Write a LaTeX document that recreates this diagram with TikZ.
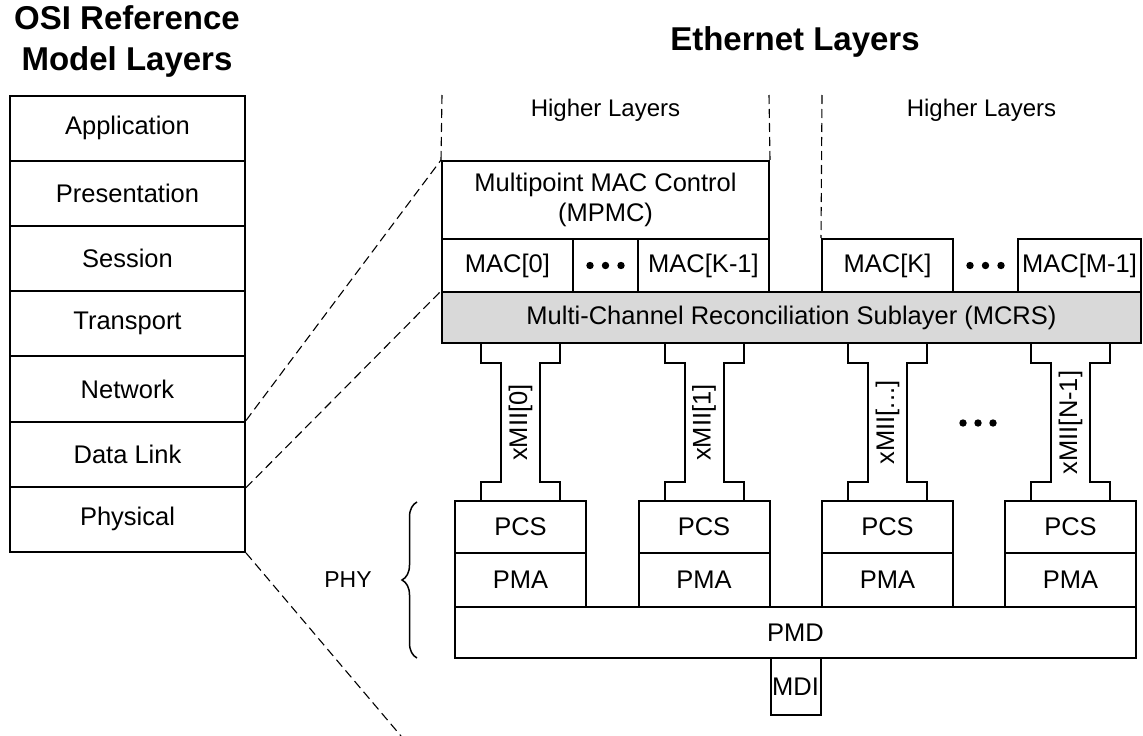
\documentclass[tikz,border=0pt]{standalone}
\usepackage{fontspec}
\setmainfont{Liberation Sans}
\usetikzlibrary{decorations.pathreplacing}

\definecolor{mcrsgray}{RGB}{217,217,217}

\begin{document}
\begin{tikzpicture}[x=1pt,y=-1pt,
  box/.style={draw, line width=2pt, inner sep=0pt, align=center,
    font=\fontsize{25.5}{30}\selectfont},
  lbl/.style={inner sep=0pt, align=center, font=\fontsize{25.5}{30}\selectfont},
  title/.style={inner sep=0pt, align=center, font=\fontsize{33}{41}\selectfont\bfseries},
  guide/.style={line width=1.1pt, dash pattern=on 9pt off 5pt},
  beam/.style={line width=2pt},
  dot/.style={fill=black}]
\useasboundingbox (0,0) rectangle (1143,736);

% titles
\node[title] (osititle) at (127,41.5) {OSI Reference\\Model Layers};
\node[title] (ethtitle) at (795,42) {Ethernet Layers};

% OSI reference model stack
\foreach \n/\t [count=\k from 0] in {app/Application,pres/Presentation,sess/Session,
    trans/Transport,net/Network,dl/Data Link,phys/Physical}
  \node[box, minimum width=235pt, minimum height=65.2pt] (\n) at (127.5,128.1+65.2*\k) {\t};

% higher layers
\node[lbl, font=\fontsize{24}{28}\selectfont] (hl1) at (605.5,110) {Higher Layers};
\node[lbl, font=\fontsize{24}{28}\selectfont] (hl2) at (981.5,110) {Higher Layers};

% MAC control and MACs
\node[box, minimum width=327pt, minimum height=78pt] (mpmc) at (605.5,200)
  {Multipoint MAC Control\\(MPMC)};
\node[box, minimum width=131pt, minimum height=53pt] (mac0) at (507.5,265.5) {MAC[0]};
\node[box, minimum width=131pt, minimum height=53pt] (mack1) at (703.5,265.5) {MAC[K-1]};
\node[box, minimum width=131pt, minimum height=53pt] (mack) at (887.5,265.5) {MAC[K]};
\node[box, minimum width=123pt, minimum height=53pt] (macm1) at (1079.5,265.5) {MAC[M-1]};
\foreach \x in {590,605.5,621} \fill[dot] (\x,265.5) circle (3.7pt);
\foreach \x in {970,985.5,1001} \fill[dot] (\x,265.5) circle (3.7pt);

% reconciliation sublayer
\node[box, fill=mcrsgray, minimum width=699pt, minimum height=51pt] (mcrs) at (791.5,317.5)
  {Multi-Channel Reconciliation Sublayer (MCRS)};

% PHY lanes: xMII, PCS, PMA
\foreach \i/\cx/\lab in {0/520.5/{xMII[0]},1/704/{xMII[1]},2/887.5/{xMII[...]},3/1070.5/{xMII[N-1]}} {
  \node[lbl, rotate=90] (xmii\i) at (\cx,422.5) {\lab};
  \draw[beam] (\cx-39.5,343) -- (\cx-39.5,363) -- (\cx-19.5,363) -- (\cx-19.5,482)
    -- (\cx-39.5,482) -- (\cx-39.5,501);
  \draw[beam] (\cx+39.5,343) -- (\cx+39.5,363) -- (\cx+19.5,363) -- (\cx+19.5,482)
    -- (\cx+39.5,482) -- (\cx+39.5,501);
  \node[box, minimum width=131pt, minimum height=52pt] (pcs\i) at (\cx,527) {PCS};
  \node[box, minimum width=131pt, minimum height=54pt] (pma\i) at (\cx,580) {PMA};
}
\foreach \x in {963,978,993} \fill[dot] (\x,423) circle (3.7pt);

% PMD and MDI
\node[box, minimum width=681pt, minimum height=51pt] (pmd) at (795.5,632.5) {PMD};
\node[box, minimum width=50pt, minimum height=57pt] (mdi) at (795.5,686.5) {MDI};

% PHY brace
\draw[line width=1.5pt, decorate, decoration={brace, amplitude=15pt}]
  (417,658) -- (417,502);
\node[lbl, font=\fontsize{23}{27}\selectfont] (phy) at (348,580) {PHY};

% guide lines
\coordinate (hltop1) at (442,95);
\coordinate (hltop2) at (769,95);
\coordinate (hltop3) at (822,95);
\coordinate (medium) at (401,736);
\draw[guide] (hltop1) -- (mpmc.north west);
\draw[guide] (hltop2) -- (mpmc.north east);
\draw[guide] (hltop3) -- (mack.north west);
\draw[guide] (dl.north east) -- (mpmc.north west);
\draw[guide] (dl.south east) -- (mcrs.north west);
\draw[guide] (phys.south east) -- (medium);
\end{tikzpicture}
\end{document}
